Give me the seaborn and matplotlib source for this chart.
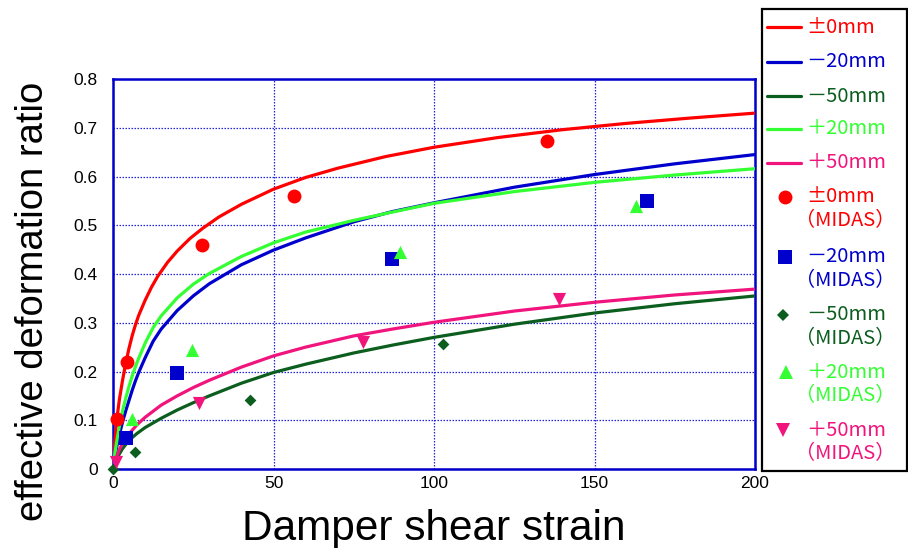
import matplotlib
matplotlib.use("Agg")
import matplotlib.pyplot as plt
import seaborn as sns
from matplotlib.lines import Line2D
from matplotlib.patches import Rectangle

# ---- series definitions -------------------------------------------------
series_labels = ["±0mm", "－20mm", "－50mm", "＋20mm", "＋50mm"]
series_colors = ["#FF0000", "#0000CC", "#0B5E1E", "#33FF33", "#F0147C"]
marker_styles = ["o", "s", "D", "^", "v"]
marker_areas = [100, 100, 36, 90, 90]

# ---- trend curves (damper shear strain vs. effective deformation ratio) --
curve_x_pm0 = [0, 0.25, 0.5, 1, 1.5, 2, 3, 4, 5, 6, 7, 8, 10, 12, 14, 17, 20,
               24, 28, 33, 40, 50, 60, 70, 85, 100, 120, 140, 160, 180, 200]
curve_y_pm0 = [0, 0.030, 0.052, 0.088, 0.118, 0.143, 0.183, 0.218, 0.248,
               0.274, 0.296, 0.315, 0.346, 0.373, 0.396, 0.424, 0.447, 0.473,
               0.494, 0.517, 0.543, 0.574, 0.598, 0.617, 0.641, 0.660, 0.680,
               0.696, 0.709, 0.720, 0.730]

curve_x_m20 = [0, 0.5, 1, 1.5, 2, 3, 4, 5, 6, 7, 8, 10, 12.5, 15, 20, 25, 30,
               40, 50, 60, 75, 87, 100, 125, 150, 175, 200]
curve_y_m20 = [0, 0.022, 0.040, 0.056, 0.071, 0.097, 0.120, 0.141, 0.162,
               0.181, 0.198, 0.228, 0.262, 0.287, 0.325, 0.355, 0.380, 0.419,
               0.449, 0.474, 0.507, 0.528, 0.546, 0.578, 0.604, 0.626, 0.645]

curve_x_m50 = [0, 0.5, 1, 2, 3, 5, 7.5, 10, 15, 20, 25, 30, 40, 50, 60, 75,
               87, 100, 125, 150, 175, 200]
curve_y_m50 = [0, 0.010, 0.018, 0.031, 0.042, 0.059, 0.073, 0.085, 0.104,
               0.121, 0.136, 0.150, 0.176, 0.198, 0.215, 0.238, 0.254, 0.270,
               0.297, 0.320, 0.339, 0.355]

curve_x_p20 = [0, 0.5, 1, 1.5, 2, 3, 4, 5, 6, 7, 8, 10, 12.5, 15, 20, 25, 30,
               40, 50, 60, 75, 87, 100, 125, 150, 175, 200]
curve_y_p20 = [0, 0.028, 0.050, 0.070, 0.088, 0.120, 0.146, 0.170, 0.191,
               0.210, 0.227, 0.258, 0.290, 0.314, 0.351, 0.379, 0.401, 0.436,
               0.464, 0.486, 0.510, 0.527, 0.545, 0.569, 0.588, 0.603, 0.616]

curve_x_p50 = [0, 0.5, 1, 2, 3, 5, 7.5, 10, 15, 20, 25, 30, 40, 50, 60, 75,
               87, 100, 125, 150, 175, 200]
curve_y_p50 = [0, 0.013, 0.023, 0.040, 0.053, 0.072, 0.091, 0.106, 0.131,
               0.150, 0.167, 0.182, 0.209, 0.232, 0.250, 0.273, 0.287, 0.301,
               0.324, 0.342, 0.357, 0.369]

# ---- MIDAS analysis results ---------------------------------------------
midas_x_pm0 = [1.1, 4.3, 27.7, 56.4, 135.2]
midas_y_pm0 = [0.103, 0.220, 0.460, 0.561, 0.673]
midas_x_m20 = [3.9, 19.8, 86.8, 166.3]
midas_y_m20 = [0.063, 0.197, 0.430, 0.550]
midas_x_m50 = [0, 7.0, 42.7, 102.8]
midas_y_m50 = [0.001, 0.035, 0.142, 0.256]
midas_x_p20 = [5.9, 24.6, 89.3, 162.8]
midas_y_p20 = [0.103, 0.245, 0.445, 0.539]
midas_x_p50 = [0.95, 26.7, 77.9, 138.9]
midas_y_p50 = [0.014, 0.136, 0.261, 0.348]

x_ticks = [0, 50, 100, 150, 200]
y_ticks = [0, 0.1, 0.2, 0.3, 0.4, 0.5, 0.6, 0.7, 0.8]
y_tick_labels = ["0", "0.1", "0.2", "0.3", "0.4", "0.5", "0.6", "0.7", "0.8"]

curves = [(curve_x_pm0, curve_y_pm0), (curve_x_m20, curve_y_m20),
          (curve_x_m50, curve_y_m50), (curve_x_p20, curve_y_p20),
          (curve_x_p50, curve_y_p50)]
midas = [(midas_x_pm0, midas_y_pm0), (midas_x_m20, midas_y_m20),
         (midas_x_m50, midas_y_m50), (midas_x_p20, midas_y_p20),
         (midas_x_p50, midas_y_p50)]

# ---- style ----------------------------------------------------------------
sns.set_theme(style="white")
plt.rcParams["font.family"] = ["Liberation Sans", "DejaVu Sans"]
plt.rcParams["text.color"] = "black"
plt.rcParams["axes.labelcolor"] = "black"
CJK = ["Noto Sans CJK JP", "DejaVu Sans"]
AXIS_BLUE = "#0000CC"

W, H = 908, 548
fig = plt.figure(figsize=(W / 100, H / 100), dpi=100)
ax = fig.add_axes([113 / W, 1 - 469 / H, (755 - 113) / W, (469 - 79) / H])

for (cx, cy), col in zip(curves, series_colors):
    sns.lineplot(x=cx, y=cy, sort=False, estimator=None, color=col,
                 linewidth=2.3, ax=ax, zorder=3)
for line in ax.get_lines():
    line.set_solid_joinstyle("round")

for (mx, my), col, mk, area in zip(midas, series_colors, marker_styles, marker_areas):
    sns.scatterplot(x=mx, y=my, marker=mk, s=area, color=col, linewidth=0,
                    ax=ax, zorder=4, clip_on=False)

ax.set_xlim(0, 200)
ax.set_ylim(0, 0.8)
ax.set_xticks(x_ticks)
ax.set_xticklabels([str(t) for t in x_ticks])
ax.set_yticks(y_ticks)
ax.set_yticklabels(y_tick_labels)
ax.tick_params(axis="both", direction="in", length=4, width=1,
               color=AXIS_BLUE, labelsize=12.5, labelcolor="black")
ax.tick_params(axis="x", pad=5)
ax.tick_params(axis="y", pad=11)

ax.grid(True, color="#2222DD", linestyle=(0, (1.2, 1.2)), linewidth=0.9)
ax.set_axisbelow(True)
for sp in ax.spines.values():
    sp.set_color(AXIS_BLUE)
    sp.set_linewidth(1.8)
    sp.set_visible(True)

ax.set_xlabel("Damper shear strain", fontsize=30.5, labelpad=13, color="black")
ax.set_ylabel("effective deformation ratio", fontsize=27.5, color="black")
ax.yaxis.set_label_coords(-0.097, 0.43)

# ---- legend panel on the right ------------------------------------------
fig.add_artist(Rectangle((762.3 / W, 1 - 471 / H), (906.7 - 762.3) / W,
                         (471 - 9.3) / H, transform=fig.transFigure,
                         facecolor="white", edgecolor="black", linewidth=1.6,
                         zorder=5))

def fy(py):
    return 1 - py / H

LEG_FS = 14.5
line_rows = [27.3, 61.7, 96, 129, 163]
for lbl, col, py in zip(series_labels, series_colors, line_rows):
    fig.add_artist(Line2D([767 / W, 801 / W], [fy(py), fy(py)],
                          transform=fig.transFigure, color=col,
                          linewidth=2.3, zorder=6))
    fig.text(806 / W, fy(py), lbl, color=col, fontsize=LEG_FS, family=CJK,
             ha="left", va="center", zorder=6)

marker_rows = [197, 257, 315, 372, 430]
marker_cols = [785, 785, 783, 786, 783]
for lbl, col, mk, area, py, px in zip(series_labels, series_colors,
                                       marker_styles, marker_areas,
                                       marker_rows, marker_cols):
    fig.add_artist(Line2D([px / W], [fy(py)], transform=fig.transFigure,
                          marker=mk, markersize=area ** 0.5, color=col,
                          markeredgewidth=0, linestyle="none", zorder=6))
    fig.text(806 / W, fy(py), lbl, color=col, fontsize=LEG_FS, family=CJK,
             ha="left", va="center", zorder=6)
    fig.text(795 / W, fy(py + 24), "（MIDAS）", color=col, fontsize=LEG_FS,
             family=CJK, ha="left", va="center", zorder=6)

fig.savefig("out.png", dpi=100)
